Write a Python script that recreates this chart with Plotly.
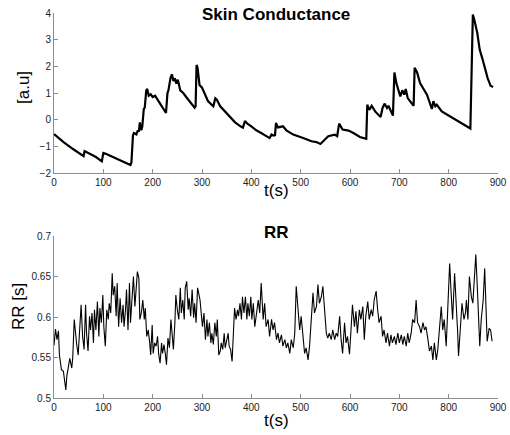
import plotly.graph_objects as go

# ---- Skin conductance (a.u.) ----
sc_t = [0, 20, 40, 60, 62, 70, 85, 97, 100, 105, 120, 140, 155, 157, 160, 162, 167, 170, 172, 174, 177, 179,
        182, 184, 187, 189, 192, 196, 200, 205, 208, 215, 222, 227, 230, 232, 236, 239, 242, 245, 248, 251,
        256, 262, 268, 275, 280, 285, 287, 289, 291, 295, 300, 305, 312, 320, 323, 327, 330, 337, 347, 357,
        367, 378, 383, 387, 392, 400, 410, 420, 430, 437, 441, 445, 448, 450, 454, 464, 471, 485, 505, 522,
        532, 540, 544, 556, 569, 574, 578, 585, 597, 607, 620, 633, 635, 639, 644, 651, 662, 666, 670, 675,
        678, 681, 687, 690, 694, 702, 706, 710, 713, 717, 725, 729, 731, 736, 742, 756, 766, 769, 773, 776,
        786, 803, 824, 841, 844, 849, 852, 858, 863, 868, 875, 879, 885, 890]
sc_v = [-0.54, -0.85, -1.12, -1.37, -1.18, -1.25, -1.4, -1.56, -1.25, -1.28, -1.4, -1.55, -1.7, -1.6, -0.6, -0.5, -0.55, -0.4, -0.45, -0.1, -0.4, -0.25,
        0.4, 0.45, 1.1, 1.15, 0.9, 0.95, 0.85, 0.9, 0.8, 0.6, 0.4, 0.25, 1.0, 1.1, 1.55, 1.7, 1.45, 1.55, 1.35, 1.5,
        1.1, 1.0, 0.85, 0.7, 0.6, 0.45, 0.5, 2.05, 1.95, 1.3, 1.2, 1.0, 0.7, 0.55, 0.5, 0.8, 0.75, 0.5, 0.3, 0.1,
        -0.1, -0.25, -0.3, -0.05, -0.15, -0.25, -0.4, -0.5, -0.62, -0.69, -0.56, -0.6, -0.58, -0.12, -0.29, -0.25, -0.4, -0.56, -0.69, -0.81,
        -0.84, -0.91, -0.84, -0.62, -0.56, -0.62, -0.15, -0.37, -0.41, -0.5, -0.65, -0.72, 0.56, 0.37, 0.52, 0.31, 0.1, 0.44, 0.6, 0.44,
        0.52, 0.37, 0.15, 1.77, 1.37, 0.87, 1.1, 0.94, 1.15, 0.81, 0.62, 0.52, 1.95, 1.77, 1.37, 0.94, 0.4, 0.69, 0.5, 0.56,
        0.31, 0.12, -0.12, -0.31, -0.33, 3.94, 3.75, 3.25, 2.62, 2.31, 1.81, 1.56, 1.27, 1.22]

# ---- RR intervals (s) ----
rr_t = [0, 3, 6, 9, 11, 15, 19, 21, 24, 26, 29, 32, 36, 38, 41, 43, 46, 49, 53, 55, 58, 61, 64, 66, 69, 72, 74, 77,
        80, 82, 85, 88, 91, 93, 96, 99, 101, 104, 107, 110, 112, 115, 118, 120, 123, 126, 128, 131, 134, 137, 140,
        142, 145, 147, 150, 153, 155, 158, 161, 164, 166, 169, 172, 174, 177, 180, 183, 185, 188, 191, 194, 196,
        199, 201, 204, 207, 210, 212, 215, 218, 220, 223, 226, 228, 231, 234, 237, 239, 242, 245, 247, 250, 253,
        256, 258, 261, 264, 266, 269, 272, 274, 277, 280, 283, 285, 288, 291, 293, 296, 299, 301, 304, 307, 310,
        312, 315, 318, 320, 323, 326, 329, 331, 334, 337, 339, 342, 345, 347, 350, 353, 355, 358, 361, 364, 366,
        369, 372, 374, 377, 380, 382, 385, 388, 391, 393, 396, 399, 401, 404, 407, 410, 414, 417, 420, 424, 427,
        430, 434, 437, 441, 444, 447, 451, 454, 457, 461, 464, 468, 471, 474, 478, 481, 485, 488, 491, 494, 498,
        501, 504, 508, 511, 515, 518, 521, 525, 528, 532, 535, 538, 542, 545, 548, 552, 555, 558, 562, 565, 569,
        572, 575, 579, 582, 585, 589, 592, 595, 599, 602, 605, 609, 612, 615, 619, 622, 626, 629, 632, 636, 639,
        643, 646, 649, 653, 656, 659, 663, 666, 669, 673, 676, 680, 683, 686, 690, 693, 697, 700, 704, 707, 710,
        714, 717, 720, 724, 727, 731, 734, 737, 741, 744, 748, 751, 754, 758, 761, 765, 768, 771, 775, 778, 781,
        785, 788, 791, 795, 798, 802, 805, 808, 812, 815, 818, 820, 824, 827, 831, 834, 836, 839, 842, 846, 849,
        852, 855, 858, 861, 863, 866, 870, 873, 876, 878, 882, 885, 888]
rr_v = [0.565, 0.585, 0.572, 0.583, 0.553, 0.535, 0.533, 0.52, 0.51, 0.527, 0.539, 0.549, 0.537, 0.55, 0.597, 0.58, 0.566, 0.553,
        0.588, 0.615, 0.576, 0.56, 0.615, 0.58, 0.558, 0.601, 0.584, 0.605, 0.568, 0.609, 0.584, 0.619, 0.576, 0.611,
        0.593, 0.627, 0.588, 0.564, 0.609, 0.597, 0.617, 0.605, 0.654, 0.627, 0.638, 0.601, 0.642, 0.588, 0.623, 0.593,
        0.615, 0.588, 0.609, 0.634, 0.584, 0.642, 0.593, 0.619, 0.65, 0.613, 0.634, 0.656, 0.648, 0.597, 0.605, 0.621,
        0.597, 0.611, 0.576, 0.584, 0.568, 0.553, 0.59, 0.555, 0.568, 0.564, 0.576, 0.555, 0.543, 0.568, 0.555, 0.566,
        0.553, 0.541, 0.574, 0.562, 0.597, 0.584, 0.56, 0.593, 0.627, 0.609, 0.597, 0.636, 0.605, 0.621, 0.597, 0.636,
        0.644, 0.609, 0.623, 0.601, 0.634, 0.599, 0.617, 0.593, 0.636, 0.63, 0.621, 0.601, 0.588, 0.605, 0.572, 0.597,
        0.576, 0.593, 0.568, 0.58, 0.566, 0.593, 0.576, 0.597, 0.553, 0.558, 0.568, 0.56, 0.58, 0.562, 0.572, 0.58,
        0.564, 0.56, 0.545, 0.584, 0.611, 0.597, 0.609, 0.601, 0.617, 0.597, 0.625, 0.605, 0.625, 0.597, 0.617, 0.601,
        0.625, 0.597, 0.617, 0.588, 0.605, 0.621, 0.605, 0.642, 0.597, 0.617, 0.588, 0.597, 0.576, 0.597, 0.584, 0.593,
        0.572, 0.58, 0.568, 0.578, 0.564, 0.572, 0.562, 0.568, 0.555, 0.572, 0.562, 0.58, 0.638, 0.609, 0.584, 0.601,
        0.576, 0.555, 0.562, 0.547, 0.564, 0.597, 0.63, 0.605, 0.613, 0.64, 0.617, 0.625, 0.638, 0.613, 0.58, 0.574,
        0.58, 0.572, 0.584, 0.572, 0.58, 0.576, 0.601, 0.572, 0.555, 0.593, 0.568, 0.576, 0.554, 0.584, 0.615, 0.588,
        0.607, 0.58, 0.609, 0.597, 0.613, 0.572, 0.601, 0.619, 0.597, 0.609, 0.601, 0.621, 0.632, 0.609, 0.593, 0.601,
        0.576, 0.584, 0.568, 0.58, 0.564, 0.578, 0.568, 0.576, 0.566, 0.58, 0.568, 0.578, 0.566, 0.576, 0.564, 0.58,
        0.568, 0.58, 0.597, 0.593, 0.621, 0.593, 0.588, 0.58, 0.593, 0.584, 0.588, 0.572, 0.558, 0.564, 0.547, 0.568,
        0.547, 0.56, 0.58, 0.613, 0.584, 0.597, 0.564, 0.609, 0.666, 0.63, 0.597, 0.654, 0.625, 0.584, 0.552, 0.588,
        0.617, 0.597, 0.605, 0.621, 0.597, 0.65, 0.625, 0.617, 0.646, 0.677, 0.638, 0.597, 0.564, 0.597, 0.621, 0.66,
        0.605, 0.57, 0.586, 0.584, 0.57]

sc_yticks = [-2, -1, 0, 1, 2, 3, 4]
rr_yticks = [0.5, 0.55, 0.6, 0.65, 0.7]
rr_yticklabels = ["0.5", "0.55", "0.6", "0.65", "0.7"]
x_ticks = [0, 100, 200, 300, 400, 500, 600, 700, 800, 900]

FONT = "Liberation Sans, Arial, Helvetica, sans-serif"
AXC = "#8c8c8c"

fig = go.Figure()
fig.add_trace(go.Scatter(x=sc_t, y=sc_v, mode="lines", line=dict(color="black", width=2.2),
                         xaxis="x", yaxis="y", showlegend=False, hoverinfo="skip"))
fig.add_trace(go.Scatter(x=rr_t, y=rr_v, mode="lines", line=dict(color="black", width=1.1),
                         xaxis="x2", yaxis="y2", showlegend=False, hoverinfo="skip"))

axis_common = dict(showline=True, linecolor=AXC, linewidth=1, mirror=False, showgrid=False, zeroline=False,
                   ticks="inside", ticklen=4, tickcolor=AXC, tickwidth=1, automargin=False,
                   tickfont=dict(family=FONT, size=10, color="#222"))

W, H = 510, 435
ML, MR, MT, MB = 54, 12, 13, 37
PW, PH = W - ML - MR, H - MT - MB

def px(xp):
    return (xp - ML) / PW

def py(yp):
    return (H - MB - yp) / PH

fig.update_layout(
    width=W, height=H,
    margin=dict(l=ML, r=MR, t=MT, b=MB),
    paper_bgcolor="white", plot_bgcolor="white",
    xaxis=dict(domain=[0, 1], range=[0, 900], tickvals=x_ticks, anchor="y", **axis_common),
    yaxis=dict(domain=[py(173), 1.0], range=[-2, 4], tickvals=sc_yticks, anchor="x", **axis_common),
    xaxis2=dict(domain=[0, 1], range=[0, 900], tickvals=x_ticks, anchor="y2", **axis_common),
    yaxis2=dict(domain=[0, py(236)], range=[0.5, 0.7], tickvals=rr_yticks, ticktext=rr_yticklabels,
                anchor="x2", **axis_common),
)

labels = [
    ("<b>Skin Conductance</b>", 276, 14, 0),
    ("<b>RR</b>", 276, 232, 0),
    ("t(s)", 276, 190, 0),
    ("t(s)", 276, 420, 0),
    ("[a.u]", 24, 88, -90),
    ("RR [s]", 18, 307, -90),
]
for text, xx, yy, ang in labels:
    fig.add_annotation(text=text, x=px(xx), y=py(yy), xref="paper", yref="paper", showarrow=False,
                       xanchor="center", yanchor="middle", textangle=ang,
                       font=dict(family=FONT, size=17, color="black"))

fig.write_html("out.html", config={"displayModeBar": False, "staticPlot": True},
               post_script="document.body.style.margin='0';document.body.style.padding='0';")
